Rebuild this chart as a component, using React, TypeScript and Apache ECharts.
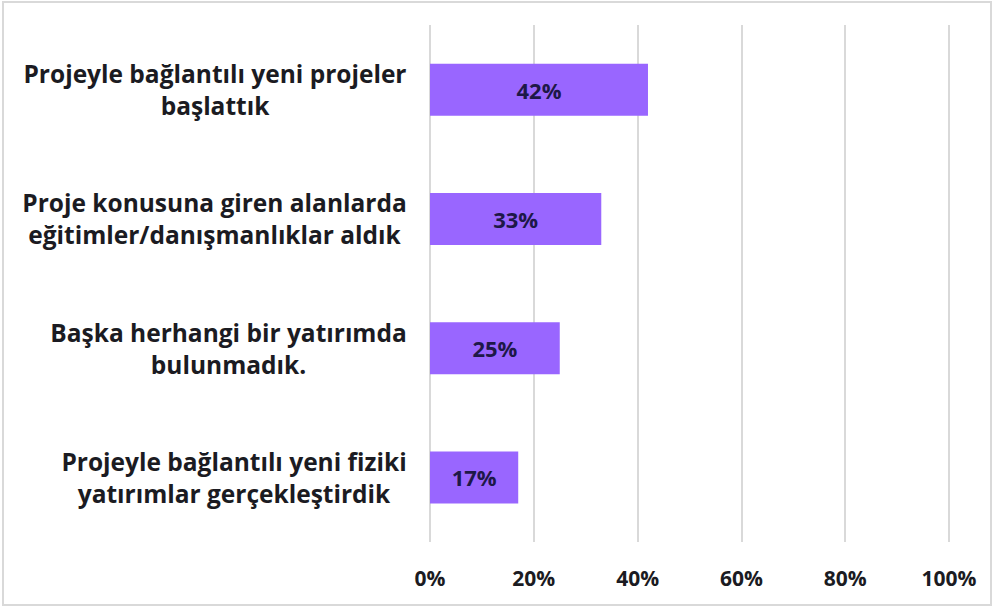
import React, { useEffect, useRef } from "react";
import * as echarts from "echarts";

const categories: string[] = [
  "Projeyle bağlantılı yeni fiziki\nyatırımlar gerçekleştirdik",
  "Başka herhangi bir yatırımda\nbulunmadık.",
  "Proje konusuna giren alanlarda\neğitimler/danışmanlıklar aldık",
  "Projeyle bağlantılı yeni projeler\nbaşlattık",
];
const values: number[] = [17, 25, 33, 42];
const xTicks: number[] = [0, 20, 40, 60, 80, 100];

const FONT = "'Open Sans', sans-serif";
const CAT_SIZE = 24.5;

function measure(text: string, size: number): number {
  const c = document.createElement("canvas");
  const ctx = c.getContext("2d");
  if (!ctx) return text.length * size * 0.55;
  ctx.font = `bold ${size}px 'Open Sans'`;
  return ctx.measureText(text).width;
}

export default function App() {
  const ref = useRef<HTMLDivElement>(null);
  useEffect(() => {
    if (!ref.current) return;
    const chart = echarts.init(ref.current, null, { renderer: "svg" });
    const rich: Record<string, any> = {};
    categories.forEach((c, i) => {
      const w = Math.ceil(Math.max(...c.split("\n").map((l) => measure(l, CAT_SIZE)))) + 2;
      rich["c" + i] = {
        width: w,
        align: "center",
        fontFamily: FONT,
        fontWeight: "bold",
        fontSize: CAT_SIZE,
        color: "#1b1b22",
        lineHeight: 32,
      };
    });
    chart.setOption({
      animation: false,
      backgroundColor: "#ffffff",
      graphic: [
        {
          type: "rect",
          shape: { x: 3, y: 2, width: 988, height: 603 },
          style: { fill: "none", stroke: "#d9d9d9", lineWidth: 2 },
          silent: true,
          z: -1,
        },
      ],
      grid: { left: 430, right: 45, top: 25, bottom: 70, containLabel: false },
      xAxis: {
        type: "value",
        min: 0,
        max: 100,
        interval: 20,
        axisLine: { show: false },
        axisTick: { show: false },
        splitLine: { show: true, lineStyle: { color: "#d9d9d9", width: 2 } },
        axisLabel: {
          margin: 25,
          fontFamily: FONT,
          fontWeight: "bold",
          fontSize: 21,
          color: "#1b1b22",
          formatter: (v: number) => (xTicks.includes(v) ? v + "%" : ""),
        },
      },
      yAxis: {
        type: "category",
        data: categories,
        axisLine: { show: false },
        axisTick: { show: false },
        axisLabel: {
          margin: 22,
          align: "right",
          formatter: (v: string) => {
            const i = categories.indexOf(v);
            return v
              .split("\n")
              .map((l) => `{c${i}|${l}}`)
              .join("\n");
          },
          rich,
        },
      },
      series: [
        {
          type: "bar",
          data: values,
          barWidth: 52,
          itemStyle: { color: "#9966ff" },
          label: {
            show: true,
            position: "inside",
            formatter: (p: any) => p.value + "%",
            fontFamily: FONT,
            fontWeight: "bold",
            fontSize: 22,
            color: "#1e1848",
          },
        },
      ],
    });
    return () => chart.dispose();
  }, []);
  return (
    <div
      ref={ref}
      style={{ position: "fixed", left: 0, top: 0, width: 994, height: 612 }}
    />
  );
}
